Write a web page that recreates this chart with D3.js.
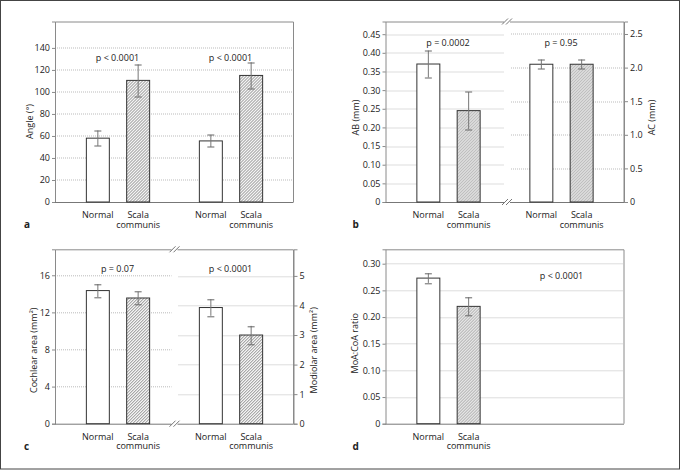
<!DOCTYPE html>
<html><head><meta charset="utf-8">
<script src="https://cdn.jsdelivr.net/npm/d3@7"></script>
<style>
body{margin:0;background:#fff;}
svg{display:block;font-family:"Open Sans",sans-serif;}
</style></head>
<body>
<svg id="chart" width="680" height="470"></svg>
<script>
// ---- data ----
const groupsCat = ["Normal", "Scala communis"];
const xLabelLines = [["Normal"], ["Scala", "communis"]];

// panel a (angle, degrees) - two measurements
const aMeans1 = [58, 110.5];
const aErr1   = [7, 14.5];
const aMeans2 = [55.5, 115];
const aErr2   = [5.5, 12];
const aTicks  = [0, 20, 40, 60, 80, 100, 120, 140];
const aP      = ["p < 0.0001", "p < 0.0001"];

// panel b: AB (mm) left, AC (mm) right
const bMeansAB = [0.37, 0.245];
const bErrAB   = [0.036, 0.05];
const bMeansAC = [2.05, 2.05];
const bErrAC   = [0.07, 0.07];
const bTicksL  = [0, 0.05, 0.10, 0.15, 0.20, 0.25, 0.30, 0.35, 0.40, 0.45];
const bTicksR  = [0, 0.5, 1.0, 1.5, 2.0, 2.5];
const bP       = ["p = 0.0002", "p = 0.95"];

// panel c: cochlear area left, modiolar area right
const cMeansCo = [14.35, 13.55];
const cErrCo   = [0.7, 0.68];
const cMeansMo = [3.93, 3.0];
const cErrMo   = [0.28, 0.31];
const cTicksL  = [0, 4, 8, 12, 16];
const cTicksR  = [0, 1, 2, 3, 4, 5];
const cP       = ["p = 0.07", "p < 0.0001"];

// panel d: MoA:CoA ratio
const dMeans = [0.273, 0.22];
const dErr   = [0.009, 0.017];
const dTicks = [0, 0.05, 0.10, 0.15, 0.20, 0.25, 0.30];
const dP     = ["p < 0.0001"];

// ---- drawing ----
const svg = d3.select("#chart");
const TXT = "#222";
const AX = "#8a8a8a";
const GRID = "#aaa";

// outer frame
svg.append("rect").attr("x", 0.5).attr("y", 0.5).attr("width", 679).attr("height", 468.5)
  .attr("fill", "none").attr("stroke", "#444").attr("stroke-width", 1);

// hatch pattern
const defs = svg.append("defs");
const pat = defs.append("pattern").attr("id", "hatch").attr("patternUnits", "userSpaceOnUse")
  .attr("width", 3).attr("height", 3);
pat.append("rect").attr("width", 3).attr("height", 3).attr("fill", "#f4f4f4");
pat.append("path").attr("d", "M-1,1 L1,-1 M0,3 L3,0 M2,4 L4,2")
  .attr("stroke", "#666").attr("stroke-width", 0.75);

const fmtWith = spec => { const f = d3.format(spec); return v => v === 0 ? "0" : f(v); };

function panel(opt) {
  const g = svg.append("g").attr("transform", `translate(${opt.left},${opt.top})`);
  const W = 238, H = opt.height;
  const x0 = d3.scaleBand().domain(["g1", "g2"]).range([6, 232]).padding(0);
  const x1 = d3.scaleBand().domain(groupsCat).range([0, x0.bandwidth()])
    .paddingInner(0.43).paddingOuter(0.617);

  const yL = d3.scaleLinear().domain([0, opt.maxL]).range([H, 0]);
  const yR = opt.maxR ? d3.scaleLinear().domain([0, opt.maxR]).range([H, 0]) : null;

  const breakX = opt.breakX;

  // gridlines
  const gl = opt.ticksL.filter(t => t > 0);
  g.append("g").selectAll("line").data(gl).join("line")
    .attr("x1", 0).attr("x2", breakX != null ? breakX - 3 : W)
    .attr("y1", d => Math.round(yL(d)) + 0.5).attr("y2", d => Math.round(yL(d)) + 0.5)
    .attr("stroke", GRID).attr("stroke-width", 0.8).attr("stroke-dasharray", "1,1");
  if (yR) {
    const gr = opt.ticksR.filter(t => t > 0);
    g.append("g").selectAll("line").data(gr).join("line")
      .attr("x1", breakX + 4).attr("x2", W)
      .attr("y1", d => Math.round(yR(d)) + 0.5).attr("y2", d => Math.round(yR(d)) + 0.5)
      .attr("stroke", GRID).attr("stroke-width", 0.8).attr("stroke-dasharray", "1,1");
  }

  // box (top, right)
  g.append("path").attr("d", `M0.5,0.5 H${W + 0.5} V${H}`)
    .attr("fill", "none").attr("stroke", AX).attr("stroke-width", 1);

  // left axis
  const axL = g.append("g").call(d3.axisLeft(yL).tickValues(opt.ticksL).tickSize(3).tickPadding(2).tickFormat(fmtWith(opt.fmtL)));
  axL.select(".domain").attr("stroke", AX);
  axL.selectAll(".tick line").attr("stroke", AX);
  axL.selectAll("text").attr("fill", TXT).attr("font-size", 9).attr("font-family", "Open Sans");

  if (yR) {
    const axR = g.append("g").attr("transform", `translate(${W + 0.5},0)`)
      .call(d3.axisRight(yR).tickValues(opt.ticksR).tickSize(4).tickPadding(2).tickFormat(fmtWith(opt.fmtR)));
    axR.select(".domain").attr("stroke", AX);
    axR.selectAll(".tick line").attr("stroke", AX);
    axR.selectAll("text").attr("fill", TXT).attr("font-size", 9).attr("font-family", "Open Sans");
  }

  // bottom axis line
  g.append("line").attr("x1", 0).attr("x2", W + 0.5).attr("y1", H + 0.5).attr("y2", H + 0.5)
    .attr("stroke", "#777").attr("stroke-width", 1);

  // bars
  opt.groups.forEach(grp => {
    const y = grp.right ? yR : yL;
    const gx = x0(grp.key);
    grp.means.forEach((m, i) => {
      const cat = groupsCat[i];
      const bx = gx + x1(cat);
      const bw = x1.bandwidth();
      g.append("rect").attr("x", bx + 0.5).attr("y", y(m)).attr("width", bw).attr("height", H - y(m))
        .attr("fill", i === 0 ? "#fff" : "url(#hatch)")
        .attr("stroke", "#333").attr("stroke-width", 1);
      const cx = bx + bw / 2 + 0.5;
      const e = grp.errs[i];
      g.append("line").attr("x1", cx).attr("x2", cx).attr("y1", y(m + e)).attr("y2", y(m - e))
        .attr("stroke", "#777").attr("stroke-width", 1);
      [m + e, m - e].forEach(v => {
        g.append("line").attr("x1", cx - 3.5).attr("x2", cx + 3.5)
          .attr("y1", Math.round(y(v)) + 0.5).attr("y2", Math.round(y(v)) + 0.5)
          .attr("stroke", "#666").attr("stroke-width", 1);
      });
      // x labels (one text per line)
      xLabelLines[i].forEach((ln, li) => {
        g.append("text").attr("text-anchor", "middle").attr("font-size", 9)
          .attr("fill", TXT).attr("x", cx).attr("y", H + 16 + li * 9.7).text(ln);
      });
    });
    if (grp.p) {
      const px = grp.pX != null ? grp.pX : gx + x0.bandwidth() / 2;
      g.append("text").attr("x", px).attr("y", grp.pY).attr("text-anchor", "middle")
        .attr("font-size", 9).attr("fill", TXT).text(grp.p);
    }
  });

  // axis break marks
  if (breakX != null) {
    [0, H].forEach(yy => {
      g.append("rect").attr("x", breakX - 3).attr("y", yy - 2).attr("width", 6).attr("height", 4).attr("fill", "#fff");
      [-2, 2].forEach(dx => {
        g.append("line").attr("x1", breakX + dx - 3).attr("y1", yy + 3)
          .attr("x2", breakX + dx + 3).attr("y2", yy - 3)
          .attr("stroke", "#666").attr("stroke-width", 0.9);
      });
    });
  }

  // y labels
  g.append("text").attr("transform", `translate(${opt.yLabelX},${opt.yLabelY}) rotate(-90)`)
    .attr("text-anchor", "middle").attr("dominant-baseline", "central")
    .attr("font-size", 9).attr("fill", TXT).text(opt.yLabel);
  if (opt.yLabelR) {
    g.append("text").attr("transform", `translate(${opt.yLabelRX},${opt.yLabelY}) rotate(-90)`)
      .attr("text-anchor", "middle").attr("dominant-baseline", "central")
      .attr("font-size", 9).attr("fill", TXT).text(opt.yLabelR);
  }
  g.append("text").attr("x", opt.letterX).attr("y", H + 26).attr("font-size", 10)
    .attr("font-weight", "bold").attr("fill", TXT).text(opt.letter);
}

panel({
  left: 55, top: 21.5, height: 180.5, maxL: 164, ticksL: aTicks, fmtL: "d", breakX: null,
  groups: [
    {key: "g1", means: aMeans1, errs: aErr1, p: aP[0], pY: 39},
    {key: "g2", means: aMeans2, errs: aErr2, p: aP[1], pY: 39}
  ],
  yLabel: "Angle (°)", yLabelX: -26, yLabelY: 100, letter: "a", letterX: -31
});

panel({
  left: 385.5, top: 21.5, height: 180.5, maxL: 0.484, maxR: 2.686,
  ticksL: bTicksL, ticksR: bTicksR, fmtL: ".2f", fmtR: ".1f", breakX: 121.5,
  groups: [
    {key: "g1", means: bMeansAB, errs: bErrAB, p: bP[0], pY: 24},
    {key: "g2", means: bMeansAC, errs: bErrAC, p: bP[1], pY: 24, right: true}
  ],
  yLabel: "AB (mm)", yLabelX: -30, yLabelY: 96, yLabelR: "AC (mm)", yLabelRX: 266,
  letter: "b", letterX: -33
});

panel({
  left: 55, top: 249.3, height: 174.4, maxL: 18.8, maxR: 5.9,
  ticksL: cTicksL, ticksR: cTicksR, fmtL: "d", fmtR: "d", breakX: 119.5,
  groups: [
    {key: "g1", means: cMeansCo, errs: cErrCo, p: cP[0], pY: 22.5},
    {key: "g2", means: cMeansMo, errs: cErrMo, p: cP[1], pY: 22.5, right: true}
  ],
  yLabel: "Cochlear area (mm²)", yLabelX: -22, yLabelY: 101,
  yLabelR: "Modiolar area (mm²)", yLabelRX: 258,
  letter: "c", letterX: -31
});

panel({
  left: 385.5, top: 249.3, height: 174.4, maxL: 0.327, ticksL: dTicks, fmtL: ".2f", breakX: null,
  groups: [
    {key: "g1", means: dMeans, errs: dErr, p: dP[0], pY: 29.5, pX: 176}
  ],
  yLabel: "MoA:CoA ratio", yLabelX: -31, yLabelY: 94, letter: "d", letterX: -33
});
</script>
</body></html>
